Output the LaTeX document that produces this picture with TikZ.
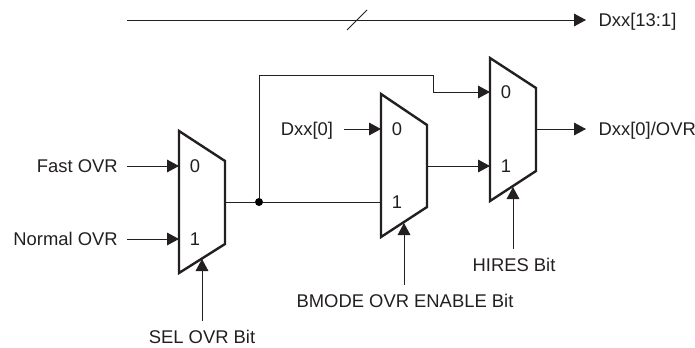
\documentclass[tikz,border=0pt]{standalone}
\usepackage{fontspec}
\setmainfont{Liberation Sans}
\usetikzlibrary{arrows.meta, positioning}
\definecolor{inkdark}{HTML}{231F20}
\tikzset{
  muxbody/.style={draw=inkdark, line width=1.8pt, line join=miter},
  wire/.style={draw=inkdark, line width=0.7pt},
  sigarrow/.style={wire, -{Triangle[length=9pt, width=9.5pt]}},
  sigtext/.style={text=inkdark, font=\fontsize{13.8}{16}\selectfont, text height=10pt, text depth=0pt, inner xsep=6.75pt, inner ysep=7pt},
  portdigit/.style={text=inkdark, font=\fontsize{13.8}{16}\selectfont, inner sep=0pt},
  junction/.style={circle, fill=black, inner sep=0pt, minimum size=6pt}
}
\begin{document}
\begin{tikzpicture}[x=0.75pt, y=-0.75pt]
  \useasboundingbox (0,0) rectangle (695,347);

  % Mux bodies
  \draw[muxbody] (179,131) -- (225,161) -- (225,244) -- (179,273) -- cycle;
  \draw[muxbody] (381,94) -- (427,125) -- (427,207) -- (381,237) -- cycle;
  \draw[muxbody] (490,58) -- (536,88) -- (536,171) -- (490,201) -- cycle;

  % Port digits
  \node[portdigit] (selzero) at (195,166) {0};
  \node[portdigit] (selone) at (195,239) {1};
  \node[portdigit] (bmodezero) at (397,129) {0};
  \node[portdigit] (bmodeone) at (397,202) {1};
  \node[portdigit] (hireszero) at (506,92) {0};
  \node[portdigit] (hiresone) at (506,166) {1};

  % Mux ports
  \coordinate (selinzero) at (179,166);
  \coordinate (selinone) at (179,239);
  \coordinate (selout) at (225,202);
  \coordinate (selctl) at (202,259);
  \coordinate (bmodeinzero) at (381,129);
  \coordinate (bmodeinone) at (381,202);
  \coordinate (bmodeout) at (427,166);
  \coordinate (bmodectl) at (404,223);
  \coordinate (hiresinzero) at (490,92);
  \coordinate (hiresinone) at (490,166);
  \coordinate (hiresout) at (536,129);
  \coordinate (hiresctl) at (513,187);

  % Labels
  \node[sigtext, anchor=east] (fastovr) at (127,166) {Fast OVR};
  \node[sigtext, anchor=east] (normalovr) at (127,239) {Normal OVR};
  \node[sigtext, anchor=east, inner xsep=8pt] (dxxzero) at (344,129) {Dxx[0]};
  \node[sigtext, anchor=north] (selbit) at (202,321) {SEL OVR Bit};
  \node[sigtext, anchor=north] (bmodebit) at (405,285) {BMODE OVR ENABLE Bit};
  \node[sigtext, anchor=north] (hiresbit) at (514,249) {HIRES Bit};
  \node[sigtext, anchor=west, inner xsep=9.3pt] (dxxhigh) at (586,20) {Dxx[13:1]};
  \node[sigtext, anchor=west, inner xsep=9.3pt] (dxxout) at (586,129) {Dxx[0]/OVR};

  % Bus line with slash
  \coordinate (busstart) at (127,20);
  \coordinate (slashlow) at (347,30);
  \coordinate (slashhigh) at (367,10);
  \draw[sigarrow] (busstart) -- (dxxhigh.west);
  \draw[wire] (slashlow) -- (slashhigh);

  % Inputs
  \draw[sigarrow] (fastovr.east) -- (selinzero);
  \draw[sigarrow] (normalovr.east) -- (selinone);
  \draw[sigarrow] (dxxzero.east) -- (bmodeinzero);

  % Select lines
  \draw[sigarrow] (selbit.north) -- (selctl);
  \draw[sigarrow] (bmodebit.north -| bmodectl) -- (bmodectl);
  \draw[sigarrow] (hiresbit.north -| hiresctl) -- (hiresctl);

  % Between the muxes
  \node[junction] (tap) at (259,202) {};
  \draw[wire] (selout) -- (tap) -- (bmodeinone);
  \draw[sigarrow] (tap) |- (433,75) |- (hiresinzero);
  \draw[sigarrow] (bmodeout) -- (hiresinone);
  \draw[sigarrow] (hiresout) -- (dxxout.west);
\end{tikzpicture}
\end{document}
